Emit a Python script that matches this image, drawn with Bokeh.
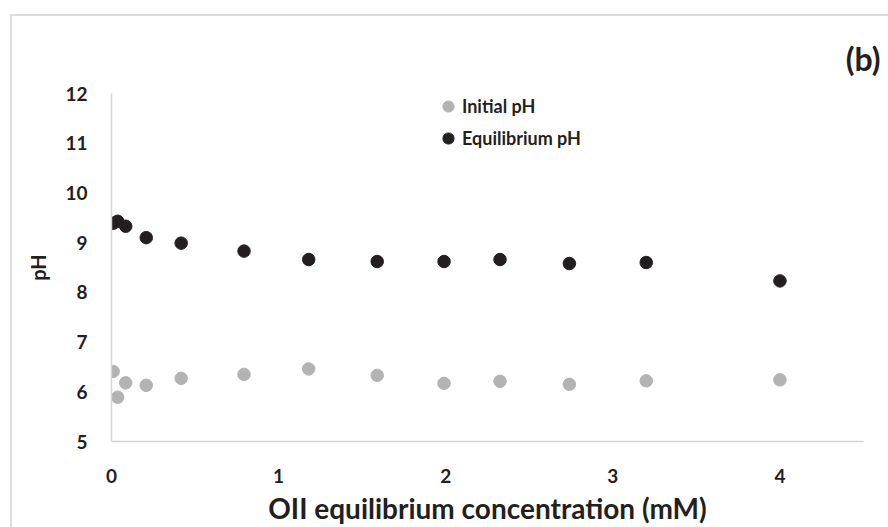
from bokeh.plotting import figure
from bokeh.models import Range1d, Legend, LegendItem, Title, FixedTicker, InlineStyleSheet
from bokeh.embed import file_html
from bokeh.resources import INLINE

conc = [0.01, 0.037, 0.085, 0.208, 0.417, 0.793, 1.18, 1.59, 1.99, 2.325, 2.74, 3.20, 4.00]
initial_ph = [6.41, 5.89, 6.18, 6.13, 6.27, 6.35, 6.46, 6.33, 6.17, 6.21, 6.15, 6.22, 6.24]
equilibrium_ph = [9.39, 9.43, 9.33, 9.10, 8.99, 8.83, 8.66, 8.62, 8.62, 8.66, 8.58, 8.60, 8.23]
x_ticks = [0, 1, 2, 3, 4]
y_ticks = [5, 6, 7, 8, 9, 10, 11, 12]

FONT = "Lato"
TXT = "#231f20"
AXC = "#d4d4d4"

border_css = InlineStyleSheet(css="""
:host { position: relative; }
:host::after {
  content: ''; position: absolute; left: 10px; top: 14px;
  width: calc(100% - 10px); height: calc(100% - 14px);
  border-left: 2px solid #dcdcdc; border-top: 2px solid #dcdcdc;
  box-sizing: border-box; pointer-events: none;
}
""")

p = figure(width=888, height=527, output_backend="svg", toolbar_location=None,
           x_range=Range1d(0, 4.5), y_range=Range1d(5, 12),
           min_border_left=111, min_border_right=25, min_border_top=93, min_border_bottom=86,
           stylesheets=[border_css])
p.outline_line_color = None
p.xgrid.visible = False
p.ygrid.visible = False

for ax in (p.xaxis[0], p.yaxis[0]):
    ax.axis_line_color = AXC
    ax.axis_line_width = 1.5
    ax.major_tick_line_color = None
    ax.minor_tick_line_color = None
    ax.major_label_text_font = FONT
    ax.major_label_text_font_style = "bold"
    ax.major_label_text_font_size = "19px"
    ax.major_label_text_color = TXT
    ax.axis_label_text_font = FONT
    ax.axis_label_text_font_style = "bold"
    ax.axis_label_text_color = TXT

p.xaxis[0].ticker = FixedTicker(ticks=x_ticks)
p.yaxis[0].ticker = FixedTicker(ticks=y_ticks)
p.xaxis[0].major_label_standoff = 21
p.yaxis[0].major_label_standoff = 18
p.xaxis[0].axis_label = "OII equilibrium concentration (mM)"
p.xaxis[0].axis_label_text_font_size = "28px"
p.xaxis[0].axis_label_standoff = 5
p.yaxis[0].axis_label = "pH"
p.yaxis[0].axis_label_text_font_size = "20px"
p.yaxis[0].axis_label_standoff = 12

r1 = p.scatter(conc, initial_ph, size=12.5, fill_color="#b3b3b3", line_color="#b3b3b3")
r2 = p.scatter(conc, equilibrium_ph, size=12.5, fill_color=TXT, line_color=TXT)

legend = Legend(items=[LegendItem(label="Initial pH", renderers=[r1]),
                       LegendItem(label="Equilibrium pH", renderers=[r2])],
                location=(323, 289), orientation="vertical",
                padding=0, spacing=4, label_height=24, glyph_width=28, glyph_height=28,
                label_standoff=0, border_line_color=None, background_fill_alpha=0,
                label_text_font=FONT, label_text_font_style="bold",
                label_text_font_size="18px", label_text_color=TXT)
p.add_layout(legend, "center")

p.add_layout(Title(text="(b)", align="right", offset=-17, standoff=32,
                   text_font=FONT, text_font_style="bold", text_font_size="32px",
                   text_color=TXT), "above")

open("out.html", "w").write(file_html(p, INLINE))
